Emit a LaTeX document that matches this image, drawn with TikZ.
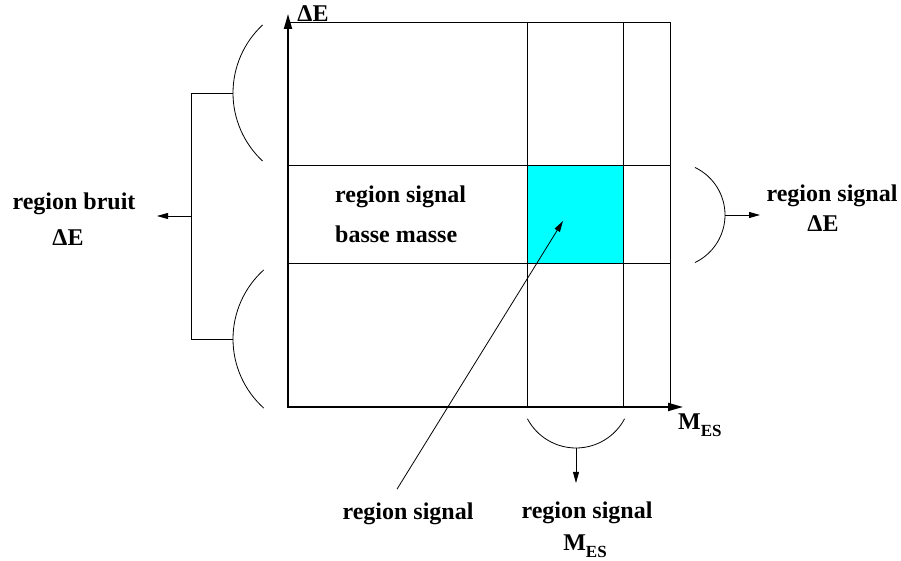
\documentclass[tikz,border=0pt]{standalone}
\usepackage{fontspec}
\setmainfont{Liberation Serif}
\usetikzlibrary{arrows.meta,calc}
\definecolor{signal}{HTML}{00FFFF}
\newcommand{\Mes}{M\raisebox{-6.5pt}{\fontsize{17}{17}\selectfont ES}}
\tikzset{
  txt/.style={font=\bfseries\fontsize{24}{28}\selectfont, inner sep=0pt, anchor=base},
  gridline/.style={line width=0.8pt},
  axis/.style={line width=1.8pt, -{Triangle[length=15pt,width=8pt]}},
  pointer/.style={line width=0.8pt, -{Triangle[length=11pt,width=6pt]}},
  brace/.style={line width=0.8pt}
}
\begin{document}
\begin{tikzpicture}[x=1pt,y=1pt]
\useasboundingbox (0,0) rectangle (901,561);
% plane and signal box
\fill[signal] (527,298) rectangle (623,396);
\foreach \gx in {527,623,670}
  \draw[gridline] (\gx,154) -- (\gx,539);
\foreach \gy in {298,396,539}
  \draw[gridline] (288,\gy) -- (670,\gy);
\draw[axis] (288,153.1) -- (288,547);
\draw[axis] (287.1,154) -- (683,154);
\node[txt] (de) at (313,539) {ΔE};
\node[txt,anchor=base west] (mes) at (678,131) {\Mes};
% noise bracket on the left
\coordinate (ua) at (233,468);
\coordinate (la) at (233,222);
\draw[brace] (ua) arc[start angle=180,end angle=133,radius=93];
\draw[brace] (ua) arc[start angle=180,end angle=227,radius=93];
\draw[brace] (la) arc[start angle=180,end angle=132,radius=93];
\draw[brace] (la) arc[start angle=180,end angle=228,radius=93];
\draw[brace] (ua) -- ++(-42,0) coordinate (bk) |- (la);
\coordinate (bm) at ($(bk)!.5!(bk|-la)$);
\draw[pointer] (bm) -- ++(-34,0);
\node[txt] (bruit) at (74,351) {region bruit};
\node[txt] (bruitde) at (68,315) {ΔE};
% signal in delta E
\coordinate (ra) at (725,346);
\draw[brace] (ra) arc[start angle=0,end angle=64.6,radius=52.6];
\draw[brace] (ra) arc[start angle=0,end angle=-64.6,radius=52.6];
\draw[pointer] (ra) -- ++(35,0);
\node[txt] (sigde) at (832,359) {region signal};
\node[txt] (sigdeb) at (823,329) {ΔE};
% signal in mass
\coordinate (ba) at (576,113);
\draw[brace] (ba) arc[start angle=270,end angle=208,radius=55];
\draw[brace] (ba) arc[start angle=270,end angle=332,radius=55];
\draw[pointer] (ba) -- ++(0,-35);
\node[txt] (sigm) at (587,42) {region signal};
\node[txt] (sigmb) at (585,10) {\Mes};
% low mass band
\node[txt,anchor=base west] (low) at (335,358) {region signal};
\node[txt,anchor=base west] (lowb) at (335,318) {basse masse};
% signal region
\node[txt] (sig) at (408,41) {region signal};
\coordinate (tail) at ($(sig.north)+(-11,14)$);
\coordinate (tgt) at (563,340);
\draw[pointer] (tail) -- (tgt);
\end{tikzpicture}
\end{document}
